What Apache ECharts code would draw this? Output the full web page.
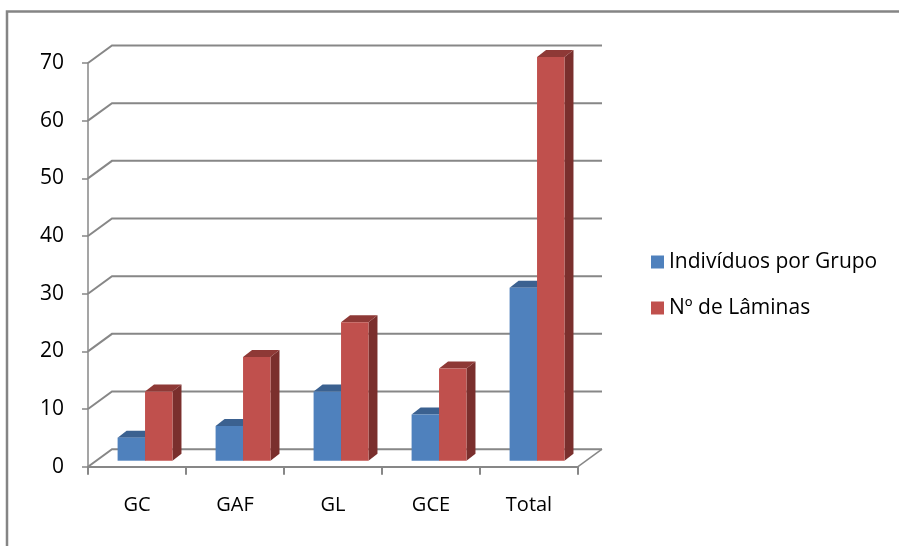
<!DOCTYPE html>
<html>
<head>
<meta charset="utf-8">
<script src="https://cdn.jsdelivr.net/npm/echarts@6/dist/echarts.min.js"></script>
<style>
html,body{margin:0;padding:0;background:#fff;}
#chart{width:899px;height:546px;}
</style>
</head>
<body>
<div id="chart"></div>
<script>
var categories = ['GC', 'GAF', 'GL', 'GCE', 'Total'];
var individuos = [4, 6, 12, 8, 30];
var laminas = [12, 18, 24, 16, 70];
var seriesNames = ['Indivíduos por Grupo', 'Nº de Lâminas'];
var yTicks = [0, 10, 20, 30, 40, 50, 60, 70];

var FONT = '"Open Sans", Lato, sans-serif';
var GRAY = '#878787';
var DX = 24, DY = 17.5;           // wall depth offset
var BDX = 9, BDY = 7;             // bar depth
var BAR_SHIFT = 0.082, BAR_W = 0.28; // fractions of category band
var BAR_LIFT = 6;

var chart = echarts.init(document.getElementById('chart'), null, {renderer: 'canvas'});

function wallItem(params, api) {
  var v = api.value(1);
  var band = api.size([1, 0])[0];
  var p = api.coord([0, v]);
  var pe = api.coord([categories.length - 1, v]);
  var x0 = p[0] - band / 2, xe = pe[0] + band / 2, y = p[1];
  var children = [{
    type: 'polyline',
    shape: {points: [[x0, y], [x0 + DX, y - DY], [xe + DX, y - DY]]},
    style: {stroke: GRAY, lineWidth: 2, fill: null}
  }];
  if (v === 0) {
    children.push({
      type: 'line',
      shape: {x1: xe, y1: y, x2: xe + DX, y2: y - DY},
      style: {stroke: GRAY, lineWidth: 1.5}
    });
  }
  return {type: 'group', children: children};
}

function barRenderer(which, front, top, side) {
  return function (params, api) {
    var i = api.value(0), v = api.value(1);
    var band = api.size([1, 0])[0];
    var c0 = api.coord([i, 0]);
    var c1 = api.coord([i, v]);
    var cx = c0[0] + band * BAR_SHIFT;
    var w = band * BAR_W;
    var x1 = which === 0 ? cx - w : cx;
    var x2 = x1 + w;
    var yb = c0[1] - BAR_LIFT, yt = c1[1] - BAR_LIFT;
    return {
      type: 'group',
      children: [
        {type: 'polygon', shape: {points: [[x2, yt], [x2 + BDX, yt - BDY], [x2 + BDX, yb - BDY], [x2, yb]]}, style: {fill: side}},
        {type: 'polygon', shape: {points: [[x1, yt], [x2, yt], [x2 + BDX, yt - BDY], [x1 + BDX, yt - BDY]]}, style: {fill: top}},
        {type: 'rect', shape: {x: x1, y: yt, width: w, height: yb - yt}, style: {fill: front}}
      ]
    };
  };
}

var option = {
  animation: false,
  backgroundColor: '#ffffff',
  grid: {left: 88, top: 63, width: 490, height: 403.7, containLabel: false},
  legend: {
    orient: 'vertical',
    left: 646, top: 246,
    itemWidth: 13, itemHeight: 13, itemGap: 24,
    icon: 'rect',
    data: seriesNames,
    textStyle: {fontFamily: FONT, fontSize: 21, lineHeight: 22, color: '#000'}
  },
  xAxis: {
    type: 'category',
    data: categories,
    boundaryGap: true,
    axisLine: {show: true, lineStyle: {color: GRAY, width: 2}},
    axisTick: {show: true, length: 8, lineStyle: {color: GRAY, width: 2}},
    axisLabel: {margin: 29, fontFamily: FONT, fontSize: 20, color: '#000'},
    splitLine: {show: false}
  },
  yAxis: {
    type: 'value',
    min: 0, max: 70, interval: 10,
    axisLine: {show: true, lineStyle: {color: GRAY, width: 1.5}},
    axisTick: {show: true, length: 6, lineStyle: {color: GRAY, width: 1.5}},
    axisLabel: {margin: 24, padding: [6, 0, 0, 0], fontFamily: FONT, fontSize: 21, color: '#000'},
    splitLine: {show: false}
  },
  graphic: [{
    type: 'polyline',
    shape: {points: [[7, 546], [7, 11.5], [899, 11.5]]},
    style: {stroke: '#858585', lineWidth: 2.5, fill: null},
    silent: true
  }],
  series: [
    {
      type: 'custom', name: 'wall', silent: true, z: 1,
      renderItem: wallItem,
      data: yTicks.map(function (v) { return [0, v]; })
    },
    {
      type: 'custom', name: seriesNames[0], z: 2,
      itemStyle: {color: '#4F81BD'},
      renderItem: barRenderer(0, '#4F81BD', '#3B6190', '#3A5F8B'),
      data: individuos.map(function (v, i) { return [i, v]; })
    },
    {
      type: 'custom', name: seriesNames[1], z: 3,
      itemStyle: {color: '#C0504D'},
      renderItem: barRenderer(1, '#C0504D', '#8E3936', '#7A2F2D'),
      data: laminas.map(function (v, i) { return [i, v]; })
    }
  ]
};
chart.setOption(option);
</script>
</body>
</html>
